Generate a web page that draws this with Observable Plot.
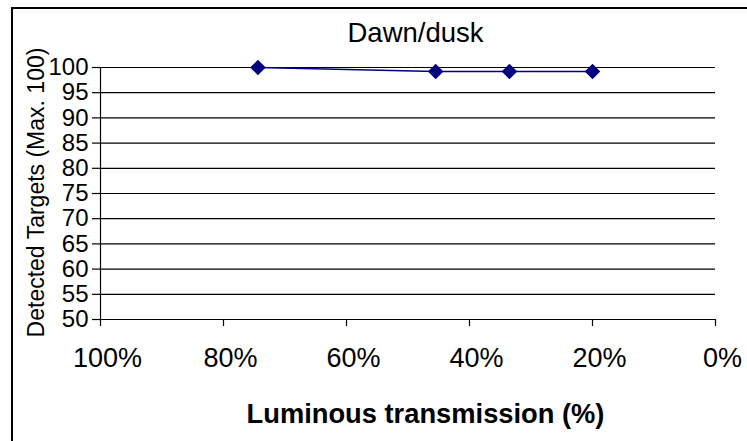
<!DOCTYPE html>
<html>
<head>
<meta charset="utf-8">
<script src="https://cdn.jsdelivr.net/npm/d3@7"></script>
<script src="https://cdn.jsdelivr.net/npm/@observablehq/plot@0.6"></script>
<style>
  html, body { margin: 0; padding: 0; background: #fff; }
  #wrap { position: relative; width: 747px; height: 441px; overflow: hidden; background: #fff; }
  #frame { position: absolute; left: 11px; top: 7px; width: 900px; height: 600px; border: 2px solid #000; box-sizing: border-box; }
  #chart { position: absolute; left: 0; top: 0; }
</style>
</head>
<body>
<div id="wrap"><div id="frame"></div><div id="chart"></div></div>
<script>
const title = "Dawn/dusk";
const xTitle = "Luminous transmission (%)";
const yTitle = "Detected Targets (Max. 100)";
const transmission = [74.4, 45.5, 33.5, 20];
const detected = [100, 99.2, 99.2, 99.2];
const xTicks = [100, 80, 60, 40, 20, 0];
const yTicks = [50, 55, 60, 65, 70, 75, 80, 85, 90, 95, 100];

const data = transmission.map((t, i) => ({t, d: detected[i]}));
const navy = "#000080";

const chart = Plot.plot({
  width: 747,
  height: 441,
  marginLeft: 100,
  marginRight: 32,
  marginTop: 67,
  marginBottom: 122,
  style: {fontFamily: "'Liberation Sans', Arial, sans-serif", background: "transparent", color: "#000"},
  x: {domain: [100, 0]},
  y: {domain: [50, 100]},
  marks: [
    Plot.ruleY(yTicks, {stroke: "#000", strokeWidth: 1.2}),
    Plot.ruleX([100], {y1: 50, y2: 100, stroke: "#000", strokeWidth: 1.2}),
    Plot.axisY(yTicks, {tickSize: 8, tickPadding: 4, tickFormat: d => d, fontSize: 24, label: null, strokeWidth: 1.2}),
    Plot.axisX(xTicks, {tickSize: 7, tickFormat: () => "", label: null, strokeWidth: 1.2}),
    Plot.axisX(xTicks, {tickSize: 0, tickPadding: 28, tickFormat: d => d + "%", fontSize: 27, dx: 7, label: null}),
    Plot.line(data, {x: "t", y: "d", stroke: navy, strokeWidth: 1.5}),
    Plot.dot(data, {x: "t", y: "d", symbol: "diamond2", r: 7, fill: navy, stroke: "none"}),
    Plot.text([title], {frameAnchor: "top", textAnchor: "middle", lineAnchor: "middle", dx: 7.5, dy: -34, fontSize: 27.5, fill: "#000"}),
    Plot.text([xTitle], {frameAnchor: "bottom", textAnchor: "middle", lineAnchor: "middle", dx: 17.5, dy: 95, fontSize: 27.3, fontWeight: "bold", fill: "#000"}),
    Plot.text([yTitle], {frameAnchor: "left", textAnchor: "middle", lineAnchor: "middle", dx: -64, dy: -1, rotate: -90, fontSize: 23, fill: "#000"})
  ]
});
document.getElementById("chart").appendChild(chart);
</script>
</body>
</html>
